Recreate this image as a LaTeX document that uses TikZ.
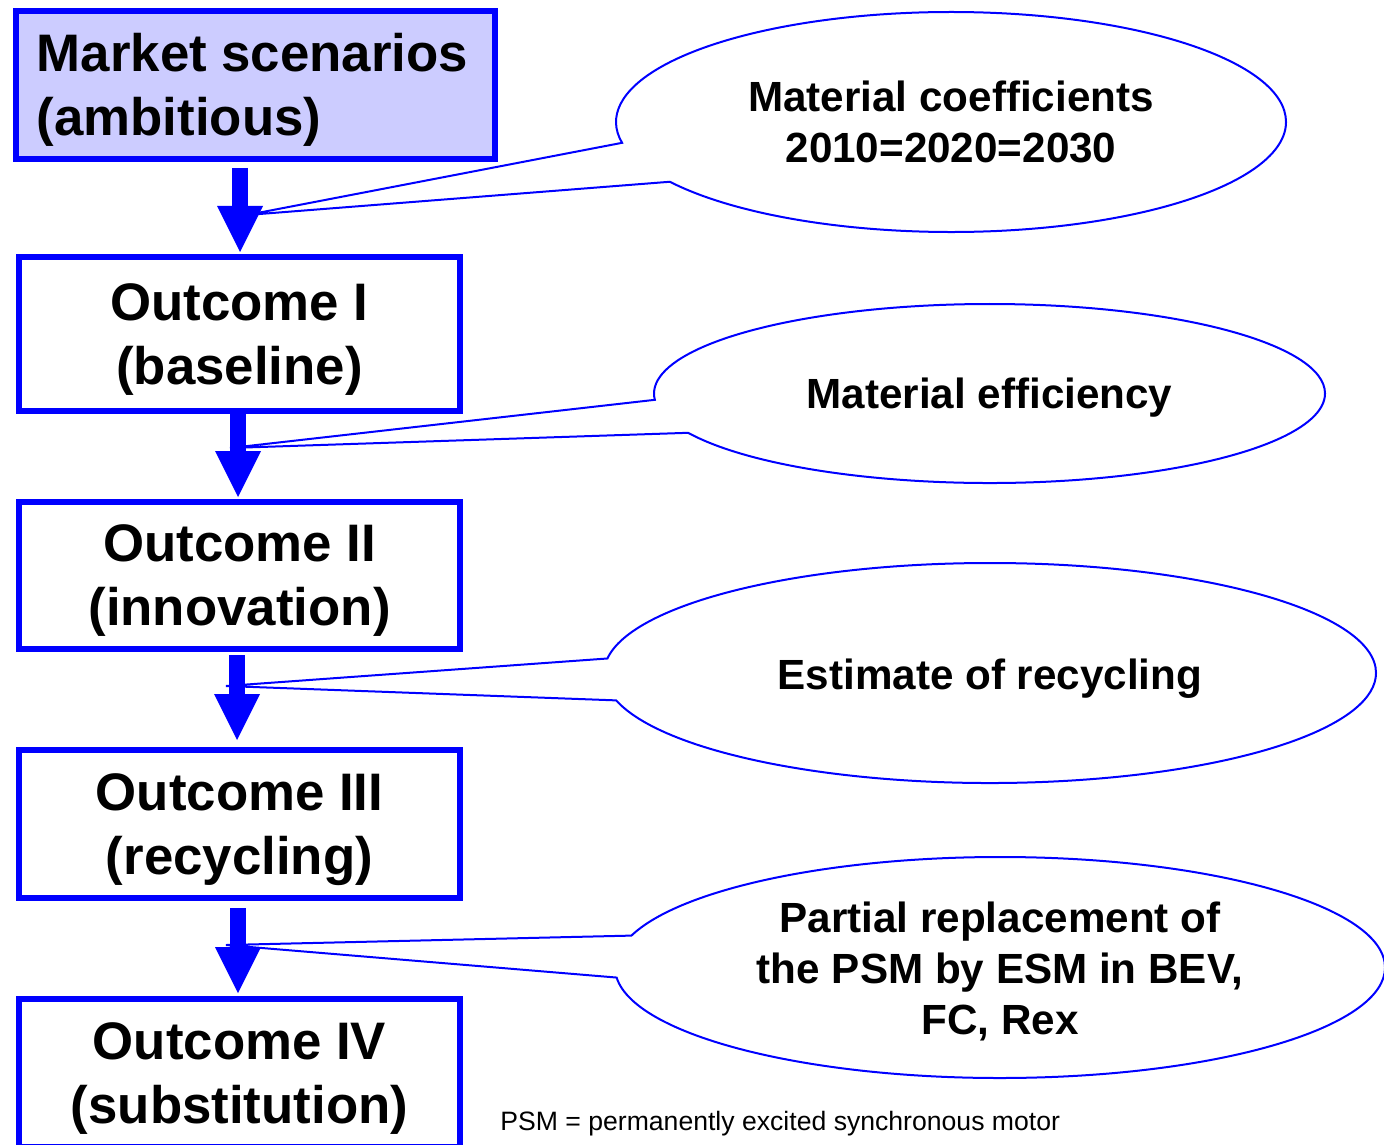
\documentclass[tikz,border=0pt]{standalone}
\usepackage{fontspec}
\setmainfont{Liberation Sans}
\usetikzlibrary{arrows.meta,shapes.callouts}
\definecolor{pblue}{RGB}{0,0,255}
\definecolor{pfill}{RGB}{204,204,255}
\begin{document}
\begin{tikzpicture}[x=0.5pt,y=-0.5pt,
  box/.style={draw=pblue,line width=3pt,inner sep=0pt,outer sep=0pt,
    minimum width=220.5pt,minimum height=74pt},
  boxtext/.style={inner sep=0pt,align=center,
    font=\fontsize{26.4}{32}\selectfont\bfseries},
  bubble/.style={ellipse callout,draw=pblue,line width=1pt,inner sep=0pt,
    outer sep=0pt,callout pointer arc=22},
  bubbletext/.style={inner sep=0pt,align=center,
    font=\fontsize{21.1}{25.5}\selectfont\bfseries},
  bigarrow/.style={draw=pblue,line width=8pt,
    -{Triangle[length=23pt,width=23pt,line width=0pt]}},
  note/.style={inner sep=0pt,anchor=west,font=\fontsize{13.3}{16}\selectfont}
]
\clip (0,0) rectangle (1384,1144);
% boxes
\node[box,fill=pfill,minimum width=239.5pt,minimum height=74pt] (b0) at (255.5,85) {};
\node[box,minimum height=77pt] (b1) at (239.5,334) {};
\node[box,minimum height=73.5pt] (b2) at (239.5,575.5) {};
\node[box] (b3) at (239.5,824) {};
\node[box] (b4) at (239.5,1073) {};
\node[boxtext,align=left] (b0t) at ([xshift=-1.5pt,yshift=-2.2pt]b0.center) {Market scenarios\\(ambitious)};
\node[boxtext] (b1t) at ([yshift=-2.7pt]b1.center) {Outcome I\\(baseline)};
\node[boxtext] (b2t) at ([yshift=-2.6pt]b2.center) {Outcome II\\(innovation)};
\node[boxtext] (b3t) at ([yshift=-3pt]b3.center) {Outcome III\\(recycling)};
\node[boxtext] (b4t) at ([yshift=-3pt]b4.center) {Outcome IV\\(substitution)};
% pointer tips
\coordinate (t1) at (247,215);
\coordinate (t2) at (230,448);
\coordinate (t3) at (226,686);
\coordinate (t4) at (226,945);
% callouts
\node[bubble,minimum width=335pt,minimum height=110pt,callout absolute pointer=(t1)] (e1) at (951,122) {};
\node[bubble,minimum width=335.5pt,minimum height=89.5pt,callout absolute pointer=(t2)] (e2) at (989.5,393.5) {};
\node[bubble,minimum width=386pt,minimum height=110pt,callout absolute pointer=(t3)] (e3) at (990,673) {};
\node[bubble,minimum width=385pt,minimum height=110.5pt,callout absolute pointer=(t4)] (e4) at (1000,967.5) {};
\node[bubbletext] (e1t) at (e1.center) {Material coefficients\\2010=2020=2030};
\node[bubbletext] (e2t) at ([yshift=-2pt]e2.center) {Material efficiency};
\node[bubbletext] (e3t) at ([yshift=-3pt]e3.center) {Estimate of recycling};
\node[bubbletext] (e4t) at ([yshift=-2.2pt]e4.center) {Partial replacement of\\the PSM by ESM in BEV,\\FC, Rex};
% arrows
\coordinate (x1) at (240,0);
\coordinate (x2) at (238,0);
\coordinate (x3) at (237,0);
\coordinate (x4) at (238,0);
\draw[bigarrow,shorten <=4.5pt,shorten >=2.5pt] (b0.south -| x1) -- (b1.north -| x1);
\draw[bigarrow,shorten <=1.5pt,shorten >=2.5pt] (b1.south -| x2) -- (b2.north -| x2);
\draw[bigarrow,shorten <=3pt,shorten >=5pt] (b2.south -| x3) -- (b3.north -| x3);
\draw[bigarrow,shorten <=5pt,shorten >=3pt] (b3.south -| x4) -- (b4.north -| x4);
% footnote
\node[note] (fn) at (500,1124) {PSM = permanently excited synchronous motor};
\end{tikzpicture}
\end{document}
